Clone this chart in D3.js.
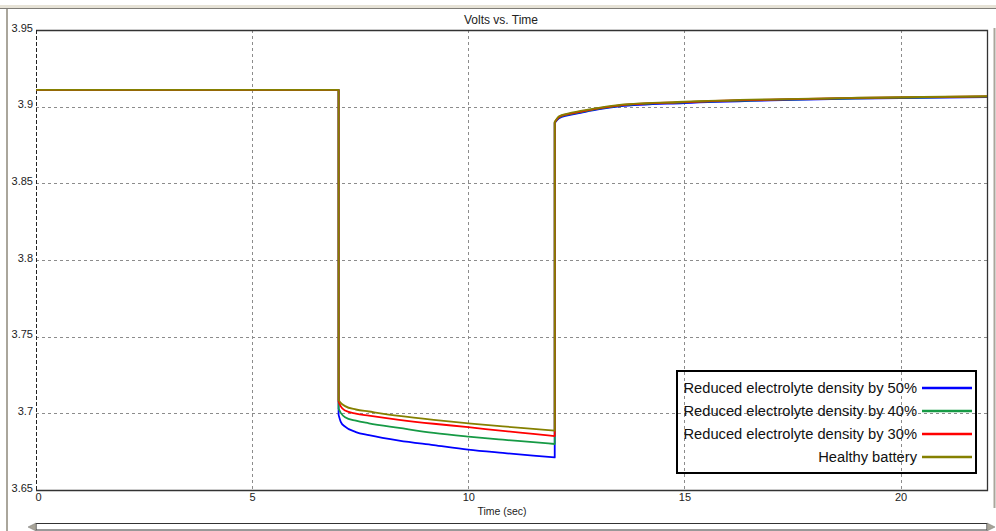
<!DOCTYPE html>
<html>
<head>
<meta charset="utf-8">
<script src="https://cdn.jsdelivr.net/npm/d3@7"></script>
<style>
  html, body { margin: 0; padding: 0; background: #fff; }
  svg { display: block; font-family: "Liberation Sans", Arial, sans-serif; }
</style>
</head>
<body>
<svg id="chart" width="996" height="531"></svg>
<script>
// Sample times (sec); repeated times mark the step edges at 7 s and 12 s
const time = [0, 7, 7, 7.05, 7.15, 7.4, 7.7, 8.4, 9.2, 10, 10.8, 11.5, 12, 12, 12.1, 12.3, 12.6, 13, 13.5, 15, 17, 19, 22];

const voltsHealthy = [3.911, 3.911, 3.7087, 3.7068, 3.7047, 3.7025, 3.7012, 3.6983, 3.6957, 3.6935, 3.6915, 3.6899, 3.6887, 3.8902, 3.8938, 3.8955, 3.8972, 3.8992, 3.9012, 3.9032, 3.9048, 3.9058, 3.9068];
const volts30 = [3.911, 3.911, 3.7076, 3.7045, 3.7018, 3.6998, 3.6985, 3.6958, 3.6932, 3.691, 3.6885, 3.6866, 3.6852, 3.8898, 3.8933, 3.8951, 3.8968, 3.8989, 3.9009, 3.903, 3.9046, 3.9057, 3.9067];
const volts40 = [3.911, 3.911, 3.703, 3.7003, 3.6975, 3.6952, 3.6935, 3.6905, 3.6872, 3.6848, 3.6828, 3.6812, 3.68, 3.8896, 3.893, 3.8948, 3.8965, 3.8986, 3.9006, 3.9028, 3.9044, 3.9055, 3.9066];
const volts50 = [3.911, 3.911, 3.699, 3.6945, 3.6913, 3.6878, 3.6858, 3.6822, 3.6793, 3.6764, 3.6742, 3.6724, 3.6713, 3.8894, 3.8925, 3.8943, 3.896, 3.8982, 3.9002, 3.9024, 3.9041, 3.9052, 3.9063];

const seriesNames = ["Reduced electrolyte density by 50%", "Reduced electrolyte density by 40%", "Reduced electrolyte density by 30%", "Healthy battery"];
const seriesValues = [volts50, volts40, volts30, voltsHealthy];
const seriesColors = ["#0000ff", "#169a45", "#ff0000", "#858000"];

const xTicks = [0, 5, 10, 15, 20];
const yTicks = [3.65, 3.7, 3.75, 3.8, 3.85, 3.9, 3.95];

const svg = d3.select("#chart");
const plot = { left: 36, top: 30, right: 987, bottom: 490 };

const x = d3.scaleLinear().domain([0, 22]).range([plot.left, plot.right]);
const y = d3.scaleLinear().domain([3.65, 3.95]).range([plot.bottom, plot.top]);

// Window frame
svg.append("rect").attr("x", 0).attr("y", 5).attr("width", 996).attr("height", 3).attr("fill", "#e6e2d6");
svg.append("line").attr("x1", 0).attr("x2", 996).attr("y1", 8.5).attr("y2", 8.5).attr("stroke", "#7f7d78").attr("stroke-width", 1);
svg.append("rect").attr("x", 6).attr("y", 9).attr("width", 2).attr("height", 522).attr("fill", "#aaa69c");
svg.append("rect").attr("x", 993.5).attr("y", 28).attr("width", 2).attr("height", 480).attr("fill", "#aaa69c");

// Title
svg.append("text").attr("x", 501).attr("y", 24).attr("text-anchor", "middle")
  .attr("font-size", 12).attr("fill", "#222").text("Volts vs. Time");

// Grid
const grid = svg.append("g").attr("stroke", "#8c8c8c").attr("stroke-width", 1).attr("stroke-dasharray", "3,3");
grid.selectAll("line.gy").data(yTicks.filter(v => v > 3.65 && v < 3.95)).join("line")
  .attr("x1", plot.left).attr("x2", plot.right)
  .attr("y1", d => Math.round(y(d)) + 0.5).attr("y2", d => Math.round(y(d)) + 0.5);
grid.selectAll("line.gx").data(xTicks.filter(v => v > 0)).join("line")
  .attr("y1", plot.top).attr("y2", plot.bottom)
  .attr("x1", d => Math.round(x(d)) + 0.5).attr("x2", d => Math.round(x(d)) + 0.5);

// Plot border
svg.append("path")
  .attr("d", `M${plot.left},${plot.top + 0.5}H${plot.right + 0.5}V${plot.bottom + 0.5}H${plot.left}`)
  .attr("fill", "none").attr("stroke", "#333").attr("stroke-width", 1.3);
svg.append("line").attr("x1", plot.left + 0.5).attr("x2", plot.left + 0.5).attr("y1", plot.top).attr("y2", plot.bottom)
  .attr("stroke", "#222").attr("stroke-width", 1).attr("stroke-dasharray", "4,2");

// Axes labels
const yAxis = d3.axisLeft(y).tickValues(yTicks).tickSize(0).tickPadding(3).tickFormat(d => d3.format("")(+d.toFixed(2)));
const gy = svg.append("g").attr("transform", `translate(${plot.left},0)`).call(yAxis);
gy.select(".domain").remove();
gy.selectAll("text").attr("font-size", 11).attr("fill", "#222").attr("dy", "0.1em")
  .attr("font-family", "'Liberation Sans', Arial, sans-serif");

const xAxis = d3.axisBottom(x).tickValues(xTicks).tickSize(0).tickPadding(3).tickFormat(d3.format("d"));
const gx = svg.append("g").attr("transform", `translate(0,${plot.bottom})`).call(xAxis);
gx.select(".domain").remove();
gx.selectAll("text").attr("font-size", 11).attr("fill", "#222")
  .attr("font-family", "'Liberation Sans', Arial, sans-serif")
  .attr("dx", d => d === 0 ? 2 : 0);

svg.append("text").attr("x", 502).attr("y", 515).attr("text-anchor", "middle")
  .attr("font-size", 10.5).attr("fill", "#222").text("Time (sec)");

// Series: smooth within each phase (rest, discharge, recovery), joined by vertical steps
const smooth = d3.line().x(d => x(d[0])).y(d => y(d[1])).curve(d3.curveMonotoneX);
function seriesPath(values) {
  const pts = values.map((v, i) => [time[i], v]);
  const phases = [];
  let start = 0;
  for (let i = 1; i < pts.length; i++) {
    if (pts[i][0] === pts[i - 1][0]) { phases.push(pts.slice(start, i)); start = i; }
  }
  phases.push(pts.slice(start));
  return phases.map((seg, k) => {
    const d = smooth(seg);
    return k === 0 ? d : "L" + d.slice(1);
  }).join("");
}
svg.append("g").selectAll("path").data(seriesValues).join("path")
  .attr("d", d => seriesPath(d))
  .attr("fill", "none")
  .attr("stroke", (d, i) => seriesColors[i])
  .attr("stroke-width", 1.8)
  .attr("stroke-linejoin", "round");

// Legend (transparent box)
const legend = svg.append("g");
legend.append("rect").attr("x", 677).attr("y", 371).attr("width", 299).attr("height", 102)
  .attr("fill", "none").attr("stroke", "#000").attr("stroke-width", 2);
const rowY = [388, 411, 434, 457];
seriesNames.forEach((name, i) => {
  legend.append("text").attr("x", 917).attr("y", rowY[i]).attr("dy", "0.35em")
    .attr("text-anchor", "end").attr("font-size", 14.7).attr("fill", "#111").text(name);
  legend.append("line").attr("x1", 922).attr("x2", 972).attr("y1", rowY[i]).attr("y2", rowY[i])
    .attr("stroke", seriesColors[i]).attr("stroke-width", 2.5);
});

// Horizontal scrollbar
const sb = svg.append("g");
sb.append("rect").attr("x", 36).attr("y", 523.5).attr("width", 951).attr("height", 6.5)
  .attr("fill", "#fff").attr("stroke", "#333").attr("stroke-width", 1);
sb.append("path").attr("d", "M28,527 L36,523 L36,531 Z").attr("fill", "#a8a498").attr("stroke", "#777").attr("stroke-width", 0.5);
sb.append("path").attr("d", "M995,527 L987,523 L987,531 Z").attr("fill", "#a8a498").attr("stroke", "#777").attr("stroke-width", 0.5);
</script>
</body>
</html>
